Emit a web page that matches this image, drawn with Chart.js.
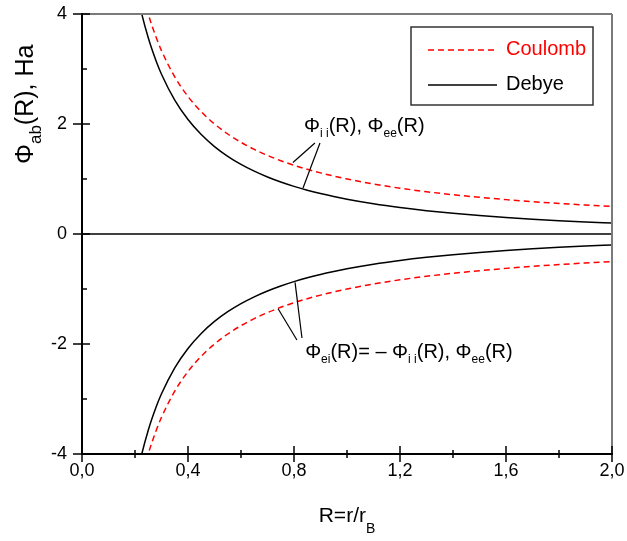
<!DOCTYPE html>
<html>
<head>
<meta charset="utf-8">
<script src="https://cdn.jsdelivr.net/npm/chart.js@4/dist/chart.umd.min.js"></script>
<style>
  body { margin: 0; background: #fff; }
  #wrap { width: 627px; height: 541px; }
</style>
</head>
<body>
<div id="wrap"><canvas id="plot"></canvas></div>
<script>
  // R = r / r_B
  const rValues = [0.2, 0.22, 0.25, 0.28, 0.3, 0.35, 0.4, 0.45, 0.5, 0.55, 0.6, 0.65, 0.7, 0.75, 0.8, 0.85, 0.9, 0.95, 1.0, 1.1, 1.2, 1.3, 1.4, 1.5, 1.6, 1.7, 1.8, 1.9, 2.0];
  const coulombUpper = [5.0, 4.545, 4.0, 3.571, 3.333, 2.857, 2.5, 2.222, 2.0, 1.818, 1.667, 1.538, 1.429, 1.333, 1.25, 1.176, 1.111, 1.053, 1.0, 0.909, 0.833, 0.769, 0.714, 0.667, 0.625, 0.588, 0.556, 0.526, 0.5];
  const debyeUpper = [4.562, 4.109, 3.567, 3.141, 2.905, 2.433, 2.081, 1.808, 1.590, 1.413, 1.266, 1.142, 1.036, 0.945, 0.866, 0.797, 0.735, 0.681, 0.632, 0.549, 0.481, 0.424, 0.376, 0.335, 0.300, 0.270, 0.243, 0.220, 0.200];
  const coulombLower = [-5.0, -4.545, -4.0, -3.571, -3.333, -2.857, -2.5, -2.222, -2.0, -1.818, -1.667, -1.538, -1.429, -1.333, -1.25, -1.176, -1.111, -1.053, -1.0, -0.909, -0.833, -0.769, -0.714, -0.667, -0.625, -0.588, -0.556, -0.526, -0.5];
  const debyeLower = [-4.562, -4.109, -3.567, -3.141, -2.905, -2.433, -2.081, -1.808, -1.590, -1.413, -1.266, -1.142, -1.036, -0.945, -0.866, -0.797, -0.735, -0.681, -0.632, -0.549, -0.481, -0.424, -0.376, -0.335, -0.300, -0.270, -0.243, -0.220, -0.200];

  const xTicks = [0, 0.4, 0.8, 1.2, 1.6, 2.0];
  const xMinor = [0.2, 0.6, 1.0, 1.4, 1.8];
  const yTicks = [-4, -2, 0, 2, 4];
  const yMinor = [-3, -1, 1, 3];

  const FONT = "'Liberation Sans', Arial, sans-serif";
  const RED = "#ff0000";

  function pts(ys) {
    return rValues.map((r, i) => ({ x: r, y: ys[i] }));
  }

  function drawRuns(ctx, x, y, runs) {
    runs.forEach(run => {
      ctx.font = run.size + "px " + FONT;
      ctx.fillText(run.t, x, y + (run.dy || 0));
      x += ctx.measureText(run.t).width;
    });
  }

  function line(ctx, x1, y1, x2, y2) {
    ctx.beginPath();
    ctx.moveTo(x1, y1);
    ctx.lineTo(x2, y2);
    ctx.stroke();
  }

  const decorations = {
    id: "decorations",
    beforeDatasetsDraw(chart) {
      const { ctx, chartArea: a, scales: { y } } = chart;
      ctx.save();
      ctx.strokeStyle = "#000";
      ctx.lineWidth = 1.5;
      line(ctx, a.left, y.getPixelForValue(0), a.right, y.getPixelForValue(0));
      ctx.restore();
    },
    afterDraw(chart) {
      const { ctx, chartArea: a, scales: { x, y } } = chart;
      const X = v => x.getPixelForValue(v);
      const Y = v => y.getPixelForValue(v);
      ctx.save();

      // frame
      ctx.lineWidth = 2;
      ctx.strokeStyle = "#7a7a7a";
      line(ctx, a.left, a.top, a.right, a.top);
      line(ctx, a.right, a.top, a.right, a.bottom);
      ctx.strokeStyle = "#000";
      line(ctx, a.left, a.top - 1, a.left, a.bottom + 1);
      line(ctx, a.left - 1, a.bottom, a.right + 1, a.bottom);

      // tick marks
      ctx.lineWidth = 1.5;
      xTicks.forEach(v => line(ctx, X(v), a.bottom - 8, X(v), a.bottom + 8));
      xMinor.forEach(v => line(ctx, X(v), a.bottom - 4, X(v), a.bottom + 4));
      yTicks.forEach(v => line(ctx, a.left - 9, Y(v), a.left + 8, Y(v)));
      yMinor.forEach(v => line(ctx, a.left, Y(v), a.left + 5, Y(v)));

      // axis titles
      ctx.fillStyle = "#000";
      ctx.textAlign = "left";
      ctx.textBaseline = "alphabetic";
      const xt = [{ t: "R=r/r", size: 21 }, { t: "B", size: 14, dy: 11 }];
      let w = 0;
      xt.forEach(r => { ctx.font = r.size + "px " + FONT; w += ctx.measureText(r.t).width; });
      drawRuns(ctx, (a.left + a.right) / 2 - w / 2, 522, xt);

      ctx.save();
      ctx.translate(33, 164);
      ctx.rotate(-Math.PI / 2);
      drawRuns(ctx, 0, 0, [
        { t: "Φ", size: 25 }, { t: "ab", size: 17, dy: 8 }, { t: "(R), Ha", size: 25 }
      ]);
      ctx.restore();

      // annotations
      ctx.lineWidth = 1.2;
      ctx.strokeStyle = "#000";
      line(ctx, X(0.879), Y(1.655), X(0.796), Y(1.30));
      line(ctx, X(0.898), Y(1.655), X(0.834), Y(0.836));
      drawRuns(ctx, X(0.838), Y(1.855), [
        { t: "Φ", size: 20 }, { t: "i i", size: 12, dy: 5 }, { t: "(R), Φ", size: 20 },
        { t: "ee", size: 12, dy: 5 }, { t: "(R)", size: 20 }
      ]);
      line(ctx, X(0.811), Y(-1.927), X(0.740), Y(-1.36));
      line(ctx, X(0.830), Y(-1.891), X(0.804), Y(-0.88));
      drawRuns(ctx, X(0.842), Y(-2.255), [
        { t: "Φ", size: 20 }, { t: "ei", size: 12, dy: 5 }, { t: "(R)= – Φ", size: 20 },
        { t: "i i", size: 12, dy: 5 }, { t: "(R), Φ", size: 20 }, { t: "ee", size: 12, dy: 5 },
        { t: "(R)", size: 20 }
      ]);

      // legend
      ctx.lineWidth = 1.5;
      ctx.strokeStyle = "#333";
      ctx.strokeRect(411, 27, 182, 78);
      ctx.strokeStyle = RED;
      ctx.setLineDash([6, 4]);
      line(ctx, 428, 50, 497, 50);
      ctx.setLineDash([]);
      ctx.strokeStyle = "#000";
      line(ctx, 428, 85, 497, 85);
      ctx.font = "20px " + FONT;
      ctx.fillStyle = RED;
      ctx.fillText("Coulomb", 506, 55);
      ctx.fillStyle = "#000";
      ctx.fillText("Debye", 506, 90);

      ctx.restore();
    }
  };

  const coulombStyle = { borderColor: RED, borderWidth: 1.5, borderDash: [6, 4], pointRadius: 0, cubicInterpolationMode: "monotone", fill: false };
  const debyeStyle = { borderColor: "#000", borderWidth: 1.5, pointRadius: 0, cubicInterpolationMode: "monotone", fill: false };

  new Chart(document.getElementById("plot"), {
    type: "line",
    data: {
      datasets: [
        Object.assign({ label: "Coulomb", data: pts(coulombUpper) }, coulombStyle),
        Object.assign({ label: "Coulomb", data: pts(coulombLower) }, coulombStyle),
        Object.assign({ label: "Debye", data: pts(debyeUpper) }, debyeStyle),
        Object.assign({ label: "Debye", data: pts(debyeLower) }, debyeStyle)
      ]
    },
    options: {
      responsive: true,
      maintainAspectRatio: false,
      animation: false,
      layout: { padding: { left: 0, top: 14, right: 15, bottom: 0 } },
      plugins: { legend: { display: false }, tooltip: { enabled: false } },
      scales: {
        x: {
          type: "linear",
          min: 0,
          max: 2,
          grid: { display: false, drawTicks: false },
          border: { display: false },
          afterBuildTicks: s => { s.ticks = xTicks.map(v => ({ value: v })); },
          afterFit: s => { s.height = 87; s.paddingLeft = 0; s.paddingRight = 0; },
          ticks: {
            padding: 6,
            color: "#000",
            font: { family: FONT, size: 18 },
            maxRotation: 0,
            callback: v => Number(v).toFixed(1).replace(".", ",")
          }
        },
        y: {
          min: -4,
          max: 4,
          grid: { display: false, drawTicks: false },
          border: { display: false },
          afterBuildTicks: s => { s.ticks = yTicks.map(v => ({ value: v })); },
          afterFit: s => { s.width = 82; s.paddingTop = 0; s.paddingBottom = 0; },
          ticks: {
            padding: 15,
            color: "#000",
            font: { family: FONT, size: 18 },
            callback: v => String(v)
          }
        }
      }
    },
    plugins: [decorations]
  });
</script>
</body>
</html>
